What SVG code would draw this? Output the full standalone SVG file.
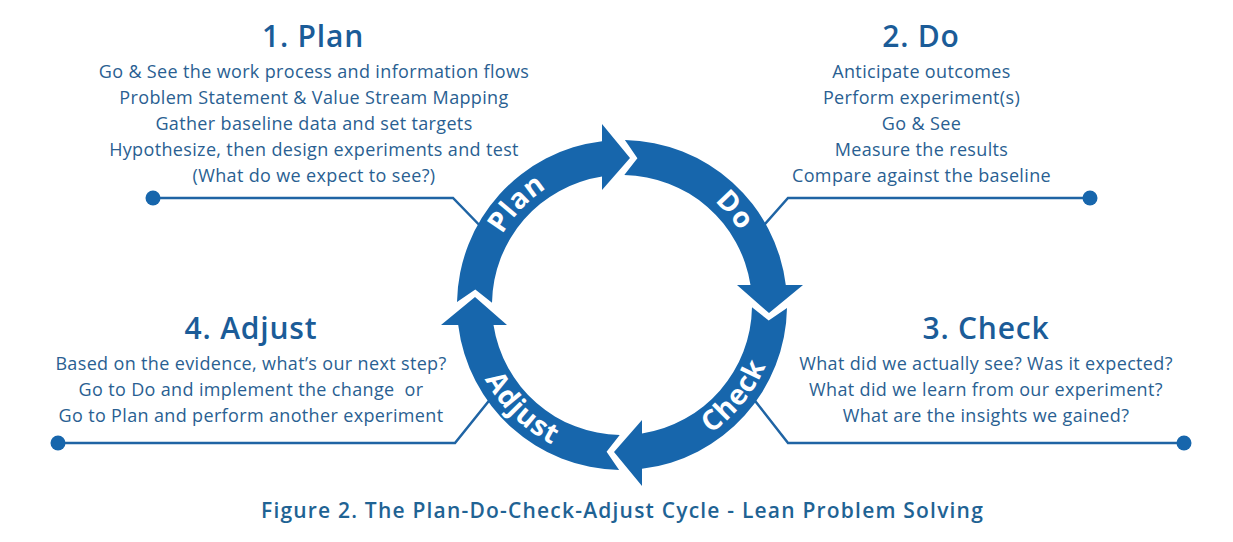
<svg xmlns="http://www.w3.org/2000/svg" xmlns:xlink="http://www.w3.org/1999/xlink" width="1233" height="542" viewBox="0 0 1233 542">
<style>
.ring{fill:#1766AC}
.lbl{font-family:"Open Sans","Liberation Sans",sans-serif;font-weight:700;font-size:28px;fill:#ffffff;letter-spacing:1px}
.title{font-family:"Open Sans","Liberation Sans",sans-serif;font-size:30px;font-weight:600;fill:#1B5C98;text-anchor:middle;letter-spacing:0.8px}
.body{font-family:"Open Sans","Liberation Sans",sans-serif;font-size:18px;fill:#2A5F92;text-anchor:middle;letter-spacing:0.35px}
.cap{font-family:"Open Sans","Liberation Sans",sans-serif;font-size:21px;font-weight:600;fill:#1F6394;text-anchor:middle;letter-spacing:1.2px}
.conn{stroke:#1F64A4;stroke-width:2.5;fill:none}
.dot{fill:#1766AC}
</style>
<defs>
<path id="seg" d="M457.0,302.1 L475.3,289.6 L492.0,302.7 A130,130 0 0 1 602,176.5 L602,190 L630,158 L602,124 L602,141.2 A165,165 0 0 0 457.0,302.1 Z"/>
<path id="tpPlan" d="M488.4,343.3 A139,139 0 0 1 655.6,170.1"/>
<path id="tpDo" d="M597.9,168.1 A139,139 0 0 1 752.6,352.5"/>
<path id="tpCheck" d="M597.6,459.1 A156,156 0 0 0 767.6,249.1"/>
<path id="tpAdjust" d="M470.6,267.3 A156,156 0 0 0 665.0,455.0"/>
</defs>
<rect width="1233" height="542" fill="#ffffff"/>
<g id="connectors">
<polyline class="conn" points="153,198 453,198 490,236"/>
<circle class="dot" cx="153" cy="198" r="7.5"/>
<polyline class="conn" points="1090,198 788,198 757,233"/>
<circle class="dot" cx="1090" cy="198" r="7.5"/>
<polyline class="conn" points="1184,443 788,443 752,397"/>
<circle class="dot" cx="1184" cy="443" r="7.5"/>
<polyline class="conn" points="58,443 455,443 492,397"/>
<circle class="dot" cx="58" cy="443" r="7.5"/>
</g>
<g id="plan">
<use xlink:href="#seg" href="#seg" class="ring"/>
<text class="lbl"><textPath xlink:href="#tpPlan" href="#tpPlan" startOffset="50%" text-anchor="middle">Plan</textPath></text>
<text class="title" x="313" y="47">1. Plan</text>
<text class="body" x="314" y="78">Go &amp; See the work process and information flows</text>
<text class="body" x="314" y="104">Problem Statement &amp; Value Stream Mapping</text>
<text class="body" x="314" y="130">Gather baseline data and set targets</text>
<text class="body" x="314" y="156">Hypothesize, then design experiments and test</text>
<text class="body" x="314" y="182">(What do we expect to see?)</text>
</g>
<g id="do">
<use xlink:href="#seg" href="#seg" class="ring" transform="rotate(90 622 305)"/>
<text class="lbl"><textPath xlink:href="#tpDo" href="#tpDo" startOffset="50%" text-anchor="middle">Do</textPath></text>
<text class="title" x="921" y="47">2. Do</text>
<text class="body" x="921.5" y="78">Anticipate outcomes</text>
<text class="body" x="921.5" y="104">Perform experiment(s)</text>
<text class="body" x="921.5" y="130">Go &amp; See</text>
<text class="body" x="921.5" y="156">Measure the results</text>
<text class="body" x="921.5" y="182">Compare against the baseline</text>
</g>
<g id="check">
<use xlink:href="#seg" href="#seg" class="ring" transform="rotate(180 622 305)"/>
<text class="lbl"><textPath xlink:href="#tpCheck" href="#tpCheck" startOffset="50%" text-anchor="middle">Check</textPath></text>
<text class="title" x="986" y="339">3. Check</text>
<text class="body" x="986" y="370">What did we actually see? Was it expected?</text>
<text class="body" x="986" y="396">What did we learn from our experiment?</text>
<text class="body" x="986" y="422">What are the insights we gained?</text>
</g>
<g id="adjust">
<use xlink:href="#seg" href="#seg" class="ring" transform="rotate(270 622 305)"/>
<text class="lbl"><textPath xlink:href="#tpAdjust" href="#tpAdjust" startOffset="50%" text-anchor="middle">Adjust</textPath></text>
<text class="title" x="251" y="339">4. Adjust</text>
<text class="body" x="251" y="370">Based on the evidence, what’s our next step?</text>
<text class="body" x="251" y="396" xml:space="preserve">Go to Do and implement the change  or</text>
<text class="body" x="251" y="422">Go to Plan and perform another experiment</text>
</g>
<text id="caption" class="cap" x="622.5" y="518">Figure 2. The Plan-Do-Check-Adjust Cycle - Lean Problem Solving</text>
</svg>
